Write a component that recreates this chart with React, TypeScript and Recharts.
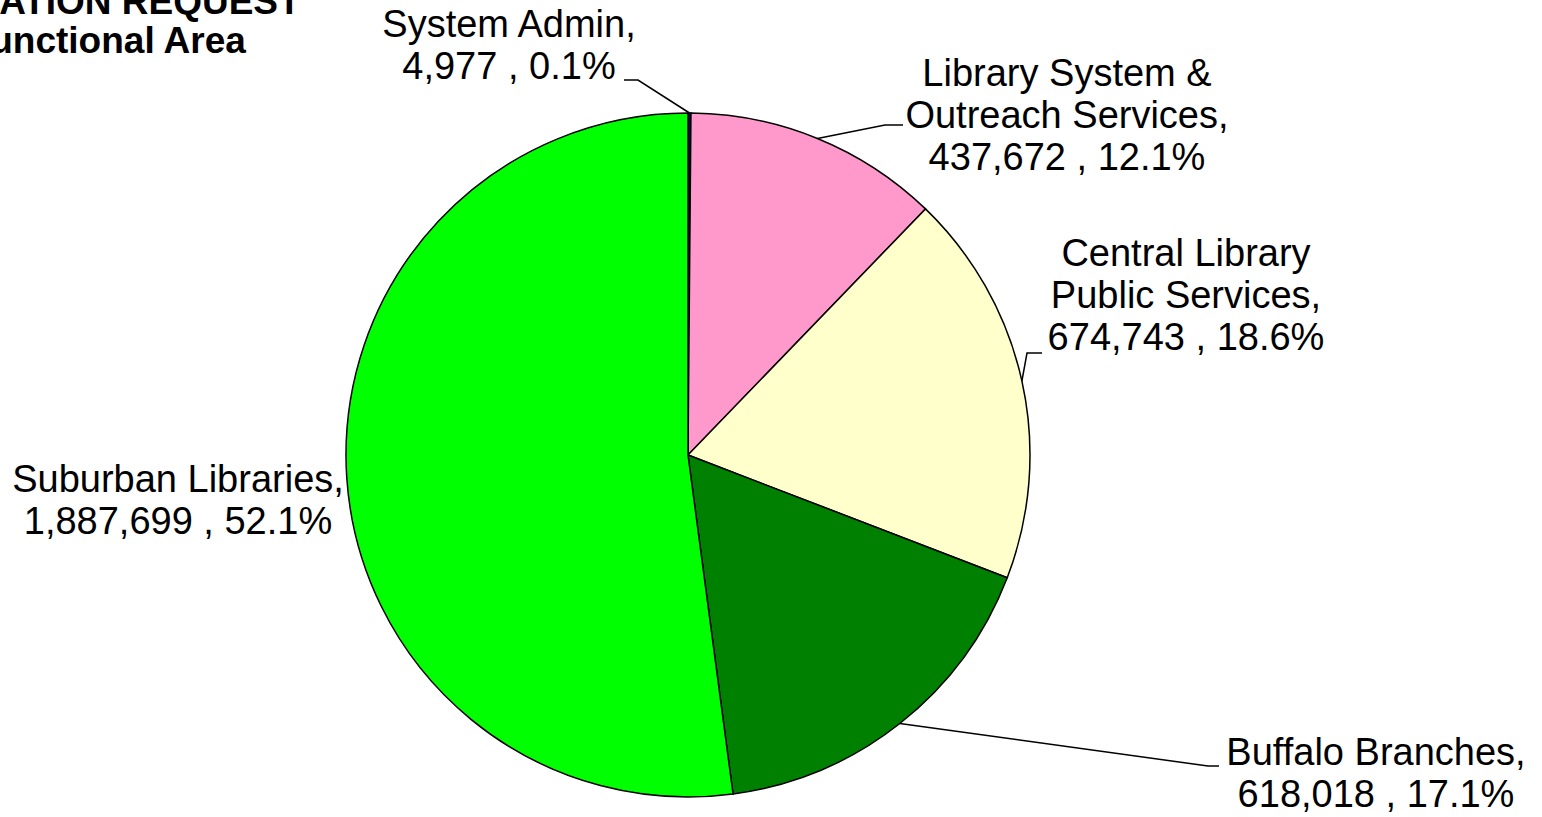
import React from "react";
import { PieChart, Pie, Cell } from "recharts";

// ---- data ----
const categories = [
  "System Admin",
  "Library System & Outreach Services",
  "Central Library Public Services",
  "Buffalo Branches",
  "Suburban Libraries",
];
const values = [4977, 437672, 674743, 618018, 1887699];
const labelNameLines = [
  ["System Admin,"],
  ["Library System &", "Outreach Services,"],
  ["Central Library", "Public Services,"],
  ["Buffalo Branches,"],
  ["Suburban Libraries,"],
];
const colors = ["#000080", "#FF99CC", "#FFFFCC", "#008000", "#00FF00"];
const titleLines = ["CIRCULATION REQUEST", "by Functional Area"];

// label layout (text block centre x, first baseline y, leader elbow & end points)
const labelLayout = [
  { tx: 509, ty: 37, elbow: [638, 80], end: [624, 80] },
  { tx: 1067, ty: 86, elbow: [885, 125], end: [903, 125] },
  { tx: 1186, ty: 266, elbow: [1027, 353], end: [1042, 353] },
  { tx: 1376, ty: 765, elbow: [1208, 766], end: [1219, 766] },
  { tx: 178, ty: 492, elbow: null, end: null },
];

const total = values.reduce((a, b) => a + b, 0);
const data = categories.map((name, i) => ({ name, value: values[i] }));

const FONT = "'Liberation Sans', Arial, Helvetica, sans-serif";
const FS = 38;
const LH = 42;

const RADIAN = Math.PI / 180;

const renderLabel = (props: any) => {
  const { cx, cy, midAngle, outerRadius, index, value } = props;
  const lay = labelLayout[index];
  const pct = ((value / total) * 100).toFixed(1);
  const lines = [...labelNameLines[index], `${value.toLocaleString("en-US")} , ${pct}%`];
  const ax = cx + outerRadius * Math.cos(-midAngle * RADIAN);
  const ay = cy + outerRadius * Math.sin(-midAngle * RADIAN);
  return (
    <g key={`lbl-${index}`}>
      {lay.elbow && (
        <polyline
          points={`${ax},${ay} ${lay.elbow[0]},${lay.elbow[1]} ${lay.end![0]},${lay.end![1]}`}
          fill="none"
          stroke="#000"
          strokeWidth={1.5}
        />
      )}
      <text
        x={lay.tx}
        y={lay.ty}
        textAnchor="middle"
        fontFamily={FONT}
        fontSize={FS}
        fill="#000"
      >
        {lines.map((l, i) => (
          <tspan key={i} x={lay.tx} y={lay.ty + i * LH}>
            {l}
          </tspan>
        ))}
      </text>
    </g>
  );
};

export default function App() {
  return (
    <div style={{ position: "fixed", left: 0, top: 0, width: 1542, height: 817, background: "#fff" }}>
      <PieChart width={1542} height={817} margin={{ top: 0, right: 0, bottom: 0, left: 0 }}>
        <Pie
          data={data}
          dataKey="value"
          nameKey="name"
          cx={688}
          cy={455}
          outerRadius={342}
          startAngle={90}
          endAngle={-270}
          stroke="#000"
          strokeWidth={1.5}
          label={renderLabel}
          labelLine={false}
          isAnimationActive={false}
        >
          {data.map((d, i) => (
            <Cell key={d.name} fill={colors[i]} />
          ))}
        </Pie>
      </PieChart>
      <svg
        width={1542}
        height={817}
        style={{ position: "absolute", left: 0, top: 0, pointerEvents: "none" }}
      >
        {titleLines.map((t, i) => (
          <text
            key={t}
            x={80}
            y={14 + i * 39}
            textAnchor="middle"
            fontFamily={FONT}
            fontSize={37}
            fontWeight="bold"
            fill="#000"
          >
            {t}
          </text>
        ))}
      </svg>
    </div>
  );
}
